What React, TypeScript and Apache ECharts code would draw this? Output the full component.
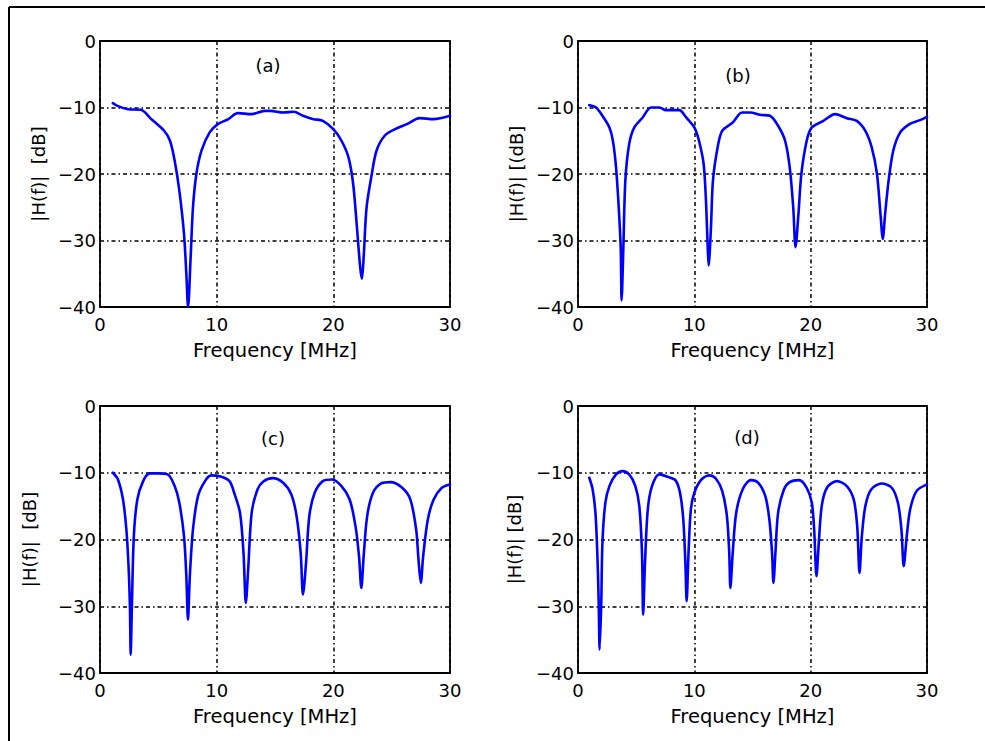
import React, { useEffect, useRef } from "react";
import * as echarts from "echarts";

// ---------- data (frequency MHz, |H(f)| dB) ----------
const curveA: [number, number][] = [
  [1.1, -9.35], [1.5, -9.75], [2.4, -10.25], [3.5, -10.35], [4.4, -11.75], [5.5, -13.5],
  [6.0, -15], [6.4, -18], [6.8, -22.5], [7.2, -29], [7.4, -35], [7.55, -40], [7.77, -32.5],
  [7.97, -25], [8.26, -20], [8.7, -16.5], [9.4, -13.75], [10.1, -12.5], [11.0, -11.75],
  [11.8, -10.85], [13.0, -11], [14.1, -10.5], [14.6, -10.5], [15.7, -10.75], [16.6, -10.65],
  [17.4, -11.25], [18.3, -11.75], [19.1, -12], [20.0, -13.25], [20.7, -15], [21.3, -17.5],
  [21.7, -21.5], [22.0, -27.5], [22.3, -34], [22.45, -35.75], [22.6, -32.5], [22.85, -25],
  [23.3, -20], [23.7, -16.5], [24.4, -14.25], [25.3, -13.25], [26.3, -12.5], [27.4, -11.6],
  [28.6, -11.75], [30.0, -11.25],
];

const curveB: [number, number][] = [
  [0.97, -9.65], [1.55, -10], [2.1, -11.25], [2.7, -13], [3.0, -15], [3.27, -19], [3.5, -25],
  [3.67, -31], [3.75, -39], [3.9, -31], [4.07, -21], [4.4, -15.5], [4.84, -13], [5.56, -11.5],
  [6.27, -10], [7.0, -10], [7.56, -10.4], [8.7, -10.4], [9.3, -11.5], [10.0, -13], [10.4, -15],
  [10.8, -18.5], [11.0, -24], [11.15, -31], [11.23, -33.75], [11.43, -28], [11.6, -21],
  [12.0, -16], [12.4, -13.5], [13.3, -12.25], [14.1, -10.75], [14.8, -10.75], [15.65, -11.1],
  [16.5, -11.25], [17.2, -12.75], [17.8, -15], [18.2, -19], [18.5, -25], [18.7, -31],
  [18.95, -26], [19.2, -20], [19.66, -15], [20.1, -13], [21.1, -12], [22.1, -11], [23.1, -11.6],
  [23.96, -12], [24.7, -13.5], [25.25, -16], [25.7, -20], [26.0, -26], [26.2, -29.75],
  [26.4, -26], [26.7, -21], [27.1, -16.5], [27.7, -13.75], [28.5, -12.5], [29.4, -11.9],
  [30.0, -11.4],
];

const curveC: [number, number][] = [
  [1.1, -10], [1.54, -11], [1.97, -14], [2.26, -18.5], [2.46, -24.5], [2.57, -30.5],
  [2.63, -37.25], [2.74, -29.5], [2.9, -19.5], [3.2, -14], [3.7, -11.25], [4.26, -10.1],
  [4.97, -10.1], [5.8, -10.25], [6.4, -12], [6.8, -14.5], [7.2, -19.5], [7.4, -25.5],
  [7.54, -32], [7.7, -25.5], [7.97, -18.5], [8.4, -13.5], [9.0, -11.25], [9.54, -10.4],
  [10.4, -10.6], [11.1, -11.25], [11.5, -13], [12.0, -16], [12.3, -22], [12.5, -29.5],
  [12.7, -24.5], [13.0, -16], [13.5, -12.5], [14.0, -11.3], [14.8, -10.8], [15.7, -11.5],
  [16.4, -13.25], [16.85, -16.5], [17.2, -22], [17.4, -28.25], [17.66, -23.5], [17.94, -16.5],
  [18.4, -13], [19.1, -11.25], [19.9, -11], [20.7, -12], [21.4, -14], [21.9, -18], [22.2, -22.5],
  [22.4, -27.25], [22.6, -22.5], [22.9, -16.5], [23.4, -13], [24.1, -11.6], [24.9, -11.4],
  [25.9, -12.25], [26.6, -14], [27.1, -18.5], [27.3, -23], [27.5, -26.5], [27.7, -22.5],
  [28.1, -17], [28.6, -14], [29.3, -12.25], [30.0, -11.75],
];

const curveD: [number, number][] = [
  [0.97, -10.75], [1.26, -12.5], [1.5, -16], [1.66, -22], [1.78, -29.5], [1.86, -36.5],
  [2.0, -29.5], [2.1, -20.5], [2.35, -14.5], [2.7, -12], [3.27, -10.25], [3.84, -9.75],
  [4.4, -10.25], [4.93, -12], [5.27, -15], [5.5, -22], [5.6, -31.25], [5.76, -23.5], [6.0, -15.5],
  [6.36, -12], [7.0, -10.25], [7.7, -10.6], [8.37, -11.1], [8.77, -13], [9.05, -17], [9.23, -23.5],
  [9.34, -29.25], [9.5, -22], [9.7, -15.5], [10.0, -13], [10.57, -11.1], [11.3, -10.4],
  [11.86, -10.9], [12.4, -12.75], [12.8, -16.5], [13.0, -22], [13.1, -27.25], [13.3, -22],
  [13.6, -16], [14.15, -12.5], [14.85, -11.1], [15.5, -11.5], [16.1, -13.5], [16.45, -17],
  [16.68, -22], [16.8, -26.5], [16.97, -22], [17.2, -16], [17.7, -12.5], [18.2, -11.4],
  [19.0, -11.1], [19.66, -12.25], [20.1, -14.5], [20.3, -18.5], [20.5, -25.5], [20.7, -20.5],
  [20.95, -15], [21.4, -12.25], [22.24, -11.25], [23.1, -12], [23.7, -14], [24.0, -18],
  [24.2, -25], [24.4, -19.5], [24.7, -15], [25.2, -12.5], [26.1, -11.6], [26.97, -12.25],
  [27.5, -14.5], [27.8, -18.5], [28.0, -24], [28.26, -19.5], [28.55, -15.5], [29.1, -12.75],
  [30.0, -11.75],
];

const xTicks = [0, 10, 20, 30];
const yTicks = [0, -10, -20, -30, -40];
const panelLabels = ["(a)", "(b)", "(c)", "(d)"];
const yNames = ["|H(f)|  [dB]", "|H(f)| [(dB]", "|H(f)|  [dB]", "|H(f)| [dB]"];
const xName = "Frequency [MHz]";
const curves = [curveA, curveB, curveC, curveD];

// ---------- layout ----------
const FONT = "DejaVu Sans";
const grids = [
  { left: 100, top: 41, width: 350, height: 266 },
  { left: 578, top: 41, width: 349, height: 266 },
  { left: 100, top: 406, width: 350, height: 267 },
  { left: 578, top: 406, width: 349, height: 267 },
];
const yNameGaps = [53, 53, 62, 55];
const labelPos = [
  [268, 65],
  [738, 75],
  [273, 438],
  [747, 437],
];

const fmt = (v: number) => (v < 0 ? "\u2212" + Math.abs(v) : String(v));

export default function App() {
  const ref = useRef<HTMLDivElement>(null);
  useEffect(() => {
    if (!ref.current) return;
    const chart = echarts.init(ref.current, undefined, { renderer: "svg" });
    const gridLine = { color: "#000", width: 1.5, type: [4, 3, 1.5, 3] as number[] };
    const option: any = {
      animation: false,
      backgroundColor: "#fff",
      grid: grids.map((g) => ({
        ...g,
        show: true,
        borderColor: "#000",
        borderWidth: 1.8,
        backgroundColor: "transparent",
        containLabel: false,
      })),
      xAxis: grids.map((_, i) => ({
        type: "value",
        gridIndex: i,
        min: xTicks[0],
        max: xTicks[xTicks.length - 1],
        interval: 10,
        axisLine: { show: false },
        axisTick: { show: false },
        splitLine: { show: true, lineStyle: gridLine },
        axisLabel: { fontFamily: FONT, fontSize: 18, color: "#000", margin: 8 },
        name: xName,
        nameLocation: "middle",
        nameGap: 33,
        nameTextStyle: { fontFamily: FONT, fontSize: 19.5, color: "#000" },
      })),
      yAxis: grids.map((_, i) => ({
        type: "value",
        gridIndex: i,
        min: yTicks[yTicks.length - 1],
        max: yTicks[0],
        interval: 10,
        axisLine: { show: false },
        axisTick: { show: false },
        splitLine: { show: true, lineStyle: gridLine },
        axisLabel: { fontFamily: FONT, fontSize: 18, color: "#000", margin: 4, formatter: fmt },
        name: yNames[i],
        nameLocation: "middle",
        nameGap: yNameGaps[i],
        nameTextStyle: { fontFamily: FONT, fontSize: 18, color: "#000" },
      })),
      series: curves.map((c, i) => ({
        type: "line",
        xAxisIndex: i,
        yAxisIndex: i,
        data: c,
        showSymbol: false,
        symbol: "none",
        smooth: 0.3,
        lineStyle: { color: "#0000ff", width: 2.6, join: "round", cap: "round" },
        clip: true,
      })),
      graphic: [
        {
          type: "line",
          shape: { x1: 9, y1: 7, x2: 9, y2: 741 },
          style: { stroke: "#000", lineWidth: 2 },
        },
        {
          type: "line",
          shape: { x1: 9, y1: 7, x2: 985, y2: 7 },
          style: { stroke: "#000", lineWidth: 2 },
        },
        ...panelLabels.map((t, i) => ({
          type: "text",
          x: labelPos[i][0],
          y: labelPos[i][1],
          style: {
            text: t,
            fontFamily: FONT,
            fontSize: 18,
            fill: "#000",
            align: "center",
            verticalAlign: "middle",
          },
        })),
      ],
    };
    chart.setOption(option);
    return () => chart.dispose();
  }, []);
  return (
    <div
      ref={ref}
      style={{ position: "absolute", left: 0, top: 0, width: 985, height: 741, background: "#fff" }}
    />
  );
}
